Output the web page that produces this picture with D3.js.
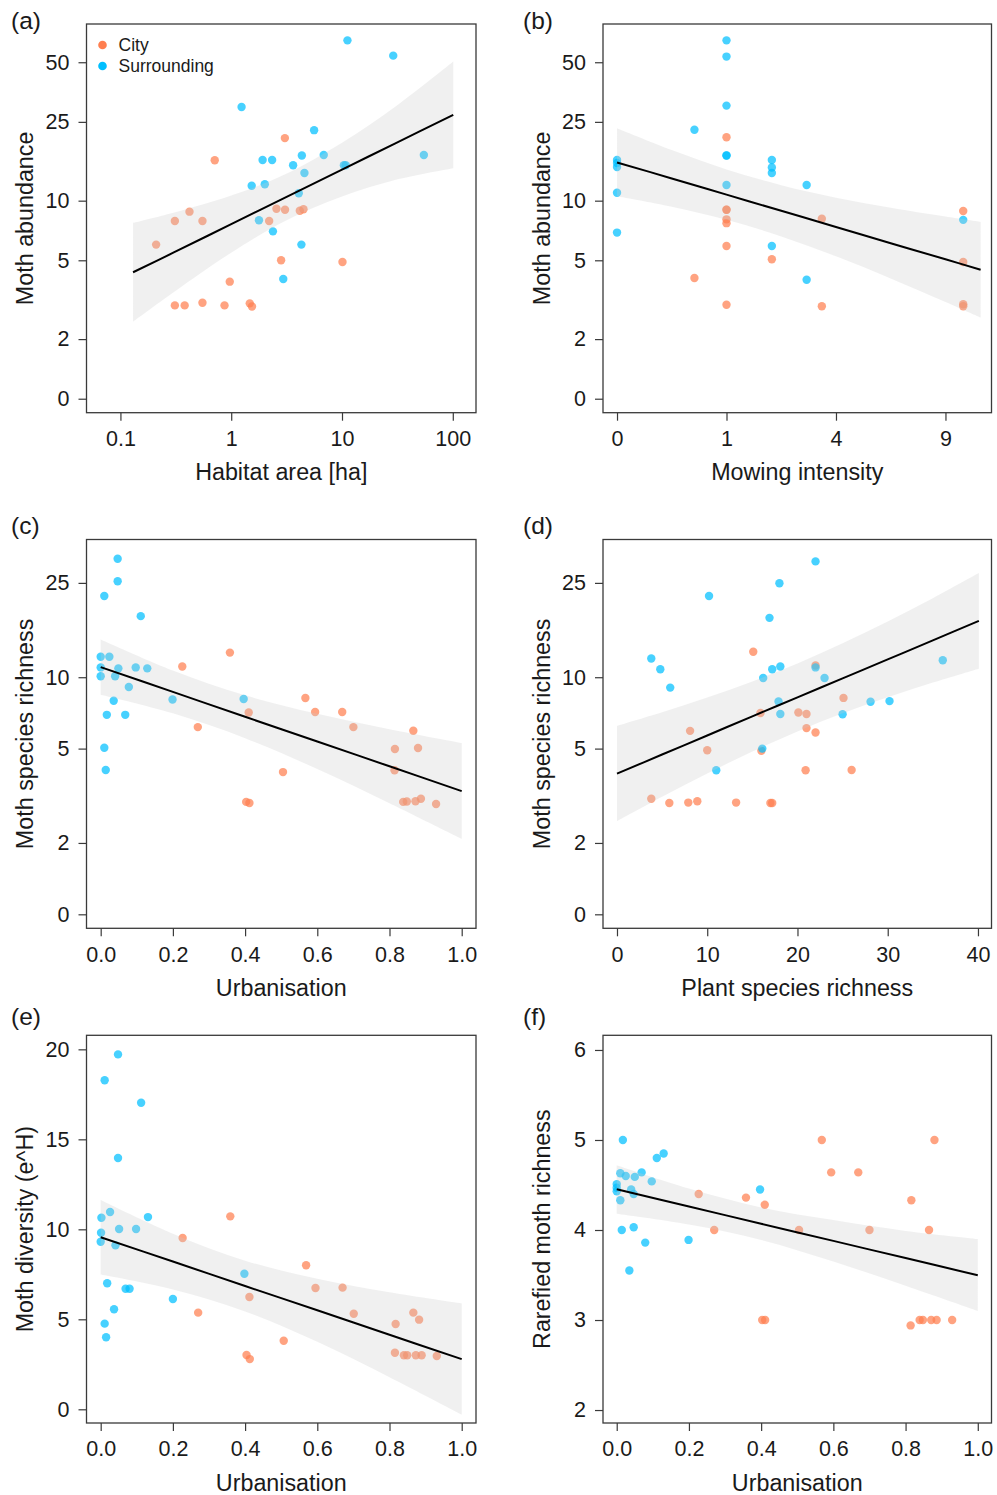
<!DOCTYPE html>
<html>
<head>
<meta charset="utf-8">
<script src="https://cdnjs.cloudflare.com/ajax/libs/d3/7.8.5/d3.min.js"></script>
<style>
  body { margin: 0; background: #fff; }
  text { font-family: "Liberation Sans", Arial, Helvetica, sans-serif; fill: #1a1a1a; }
</style>
</head>
<body>
<div class="canvas"></div>
<script>
// ---- data ----

// (a) habitat area vs moth abundance
const aCityArea  = [3.05, 0.71, 0.42, 0.31, 0.55, 0.21, 2.56, 3.06, 4.16, 4.49, 2.20, 2.82, 10.1, 0.97, 0.31, 0.38, 0.55, 0.87, 1.47, 1.54];
const aCityAbund = [20.7, 16.0, 8.8, 7.9, 7.9, 6.0, 9.1, 9.0, 8.9, 9.05, 7.9, 5.0, 4.9, 3.9, 2.96, 2.96, 3.05, 2.96, 3.03, 2.92];
const aSurrArea  = [11.2, 29.0, 1.24, 5.6, 4.34, 6.84, 1.92, 2.34, 3.62, 10.4, 10.8, 54.8, 4.58, 1.53, 2.01, 4.07, 1.78, 2.38, 4.3, 2.95];
const aSurrAbund = [64.5, 54.0, 29.7, 22.7, 16.9, 17.0, 16.05, 16.05, 15.1, 15.1, 15.1, 17.0, 13.8, 11.9, 12.1, 10.9, 7.96, 7.0, 6.0, 4.02];
const aFitArea = [0.13, 0.3, 1, 3, 10, 30, 101];
const aFitMid  = [4.35, 5.46, 7.61, 10.30, 14.35, 19.43, 27.1];
const aFitLo   = [2.45, 3.44, 5.46, 7.85, 10.50, 12.73, 14.6];
const aFitHi   = [7.71, 8.68, 10.61, 13.50, 19.63, 29.7, 50.4];

// (b) mowing intensity vs moth abundance
const bCityMow   = [0.5, 1, 1, 1, 1, 1, 1, 1, 2, 3.5, 3.5, 10, 10, 10, 10];
const bCityAbund = [4.07, 20.9, 9.0, 9.0, 8.05, 7.7, 5.9, 2.98, 5.06, 8.1, 2.93, 8.87, 4.9, 3.0, 2.93];
const bSurrMow   = [0, 0, 0, 0, 0, 0.5, 1, 1, 1, 1, 1, 1, 2, 2, 2, 2, 3, 3, 10];
const bSurrAbund = [16.05, 15.5, 14.8, 10.97, 6.9, 22.8, 64.5, 53.4, 30.2, 16.9, 16.9, 12.0, 16.05, 14.7, 13.8, 5.9, 12.0, 3.99, 8.0];
const bFitMow = [0, 0.25, 1, 2.25, 4, 6.25, 9, 11.03];
const bFitMid = [15.6, 12.95, 10.73, 8.89, 7.37, 6.10, 5.06, 4.48];
const bFitLo  = [10.53, 9.32, 8.00, 6.60, 5.24, 4.05, 3.08, 2.57];
const bFitHi  = [23.2, 18.0, 14.38, 11.98, 10.36, 9.21, 8.31, 7.81];

// (c) urbanisation vs moth species richness
const cCityUrb  = [0.358, 0.226, 0.567, 0.594, 0.669, 0.41, 0.70, 0.269, 0.866, 0.815, 0.879, 0.814, 0.505, 0.403, 0.412, 0.838, 0.848, 0.872, 0.887, 0.929];
const cCityRich = [12.7, 11.1, 8.17, 7.13, 7.13, 7.1, 6.16, 6.16, 5.95, 4.98, 5.03, 4.05, 3.98, 2.98, 2.95, 2.98, 2.99, 3.0, 3.07, 2.92];
const cSurrUrb  = [0.047, 0.047, 0.01, 0.111, 0, 0.024, 0, 0.049, 0.097, 0.129, 0, 0.040, 0.078, 0.199, 0.396, 0.036, 0.017, 0.068, 0.01, 0.014];
const cSurrRich = [31.6, 25.4, 22.0, 18.1, 12.2, 12.2, 11.0, 10.9, 11.0, 10.9, 10.1, 10.1, 9.1, 8.06, 8.1, 7.96, 6.94, 6.94, 5.04, 4.06];
const cFitUrb = [0, 0.2, 0.4, 0.6, 0.8, 1.0];
const cFitMid = [11.03, 8.67, 6.81, 5.36, 4.21, 3.31];
const cFitLo  = [8.43, 7.04, 5.53, 4.10, 2.94, 2.08];
const cFitHi  = [14.44, 10.68, 8.39, 7.01, 6.04, 5.28];

// (d) plant species richness vs moth species richness
const dCityPlant = [15.1, 22, 25.1, 15.9, 20.1, 21, 8.1, 21, 22, 10, 16, 20.9, 26, 3.8, 5.8, 7.9, 8.9, 13.2, 17, 17.2];
const dCityRich  = [12.8, 11.2, 8.18, 7.07, 7.1, 7.0, 5.94, 6.1, 5.85, 4.92, 4.9, 4.05, 4.06, 3.07, 2.95, 2.96, 3.0, 2.96, 2.95, 2.95];
const dSurrPlant = [22, 18, 10.2, 16.9, 3.8, 4.8, 5.9, 18.1, 17.2, 22, 16.2, 23, 36.1, 17.9, 28.1, 30.2, 18.1, 25, 16.1, 11];
const dSurrRich  = [30.8, 24.9, 22.0, 17.8, 12.0, 10.8, 9.04, 11.1, 10.8, 11.0, 9.92, 9.92, 11.8, 7.9, 7.88, 7.93, 7.0, 6.98, 5.0, 4.05];
const dFitPlant = [0, 5, 10, 15, 20, 25, 30, 35, 40.1];
const dFitMid   = [3.92, 4.72, 5.68, 6.84, 8.22, 9.89, 11.89, 14.31, 17.29];
const dFitLo    = [2.47, 3.13, 3.93, 4.86, 5.91, 7.04, 8.23, 9.50, 10.87];
const dFitHi    = [6.23, 7.11, 8.21, 9.60, 11.44, 13.90, 17.19, 21.56, 27.5];

// (e) urbanisation vs moth diversity
const eCityUrb = [0.359, 0.227, 0.569, 0.595, 0.670, 0.412, 0.701, 0.270, 0.866, 0.882, 0.817, 0.507, 0.404, 0.413, 0.815, 0.840, 0.849, 0.873, 0.889, 0.931];
const eCityDiv = [10.72, 9.52, 8.0, 6.74, 6.76, 6.24, 5.31, 5.37, 5.37, 4.98, 4.74, 3.81, 3.02, 2.79, 3.14, 3.0, 3.0, 3.0, 3.0, 2.96];
const eSurrUrb = [0.048, 0.011, 0.112, 0.048, 0.002, 0.026, 0.131, 0.001, 0.051, 0.098, 0, 0.041, 0.398, 0.018, 0.069, 0.080, 0.2, 0.037, 0.011, 0.015];
const eSurrDiv = [19.72, 18.28, 17.03, 13.96, 10.64, 10.96, 10.68, 9.81, 10.02, 10.02, 9.31, 9.11, 7.53, 7.0, 6.7, 6.7, 6.13, 5.56, 4.76, 4.0];
const eFitUrb = [0, 0.2, 0.4, 0.6, 0.8, 1.0];
const eFitMid = [9.56, 8.21, 6.85, 5.50, 4.14, 2.79];
const eFitLo  = [7.49, 6.66, 5.44, 3.75, 1.78, -0.30];
const eFitHi  = [11.63, 9.76, 8.26, 7.25, 6.50, 5.88];

// (f) urbanisation vs rarefied moth richness
const fCityUrb  = [0.568, 0.880, 0.594, 0.669, 0.227, 0.358, 0.41, 0.816, 0.270, 0.505, 0.700, 0.865, 0.403, 0.411, 0.814, 0.839, 0.848, 0.871, 0.886, 0.929];
const fCityRare = [5.0, 5.0, 4.64, 4.64, 4.4, 4.36, 4.28, 4.33, 4.0, 4.0, 4.0, 4.0, 3.0, 3.0, 2.94, 3.0, 3.0, 3.0, 3.0, 3.0];
const fSurrUrb  = [0.017, 0.111, 0.130, 0.010, 0.025, 0.050, 0.069, 0.097, 0.0, 0.0, 0.0, 0.040, 0.047, 0.010, 0.397, 0.014, 0.047, 0.079, 0.199, 0.035];
const fSurrRare = [5.0, 4.8, 4.85, 4.63, 4.6, 4.59, 4.64, 4.54, 4.51, 4.43, 4.47, 4.45, 4.40, 4.33, 4.45, 4.0, 4.03, 3.86, 3.89, 3.55];
const fFitUrb = [0, 0.2, 0.4, 0.6, 0.8, 1.0];
const fFitMid = [4.452, 4.261, 4.070, 3.879, 3.688, 3.497];
const fFitLo  = [4.18, 4.06, 3.89, 3.65, 3.38, 3.10];
const fFitHi  = [4.72, 4.46, 4.25, 4.11, 3.99, 3.90];

// tick values and their printed labels
const abundTicks  = [1, 2, 5, 10, 25, 50];
const abundLabels = ['0', '2', '5', '10', '25', '50'];
const richTicks   = [1, 2, 5, 10, 25];
const richLabels  = ['0', '2', '5', '10', '25'];
const areaTicks   = [0.1, 1, 10, 100];
const areaLabels  = ['0.1', '1', '10', '100'];
const mowTicks    = [0, 1, 4, 9];
const urbTicks    = [0, 0.2, 0.4, 0.6, 0.8, 1.0];
const plantTicks  = [0, 10, 20, 30, 40];
const divTicks    = [0, 5, 10, 15, 20];
const rareTicks   = [2, 3, 4, 5, 6];

const groups = ['City', 'Surrounding'];

// ---- layout ----
const W = 997, H = 1495;
const cols = [{ l: 86.5, r: 476 }, { l: 603, r: 991.5 }];
const rows = [{ t: 24, b: 412.7 }, { t: 539.5, b: 928.3 }, { t: 1035.3, b: 1423 }];
const tickFs = 21.5;   // tick labels
const titleFs = 23.3;  // axis titles
const tagFs = 24.5;    // panel letters
const color = { City: '#ff7f50', Surrounding: '#00bfff' };

const svg = d3.select('.canvas')
  .append('svg')
    .attr('width', W)
    .attr('height', H);

const urbFmt = d3.format('.1f');

const panels = [
  { tag: '(a)', col: 0, row: 0,
    x: d3.scaleLog().domain([0.0494, 162]), y: d3.scaleLog().domain([0.85, 78]),
    xt: areaTicks, xl: areaLabels, yt: abundTicks, yl: abundLabels,
    xTitle: 'Habitat area [ha]', yTitle: 'Moth abundance',
    city: [aCityArea, aCityAbund], surr: [aSurrArea, aSurrAbund],
    fit: [aFitArea, aFitMid, aFitLo, aFitHi], legend: true },
  { tag: '(b)', col: 1, row: 0,
    x: d3.scaleSqrt().domain([-0.0164, 11.70]), y: d3.scaleLog().domain([0.85, 78]),
    xt: mowTicks, xl: mowTicks.map(String), yt: abundTicks, yl: abundLabels,
    xTitle: 'Mowing intensity', yTitle: 'Moth abundance',
    city: [bCityMow, bCityAbund], surr: [bSurrMow, bSurrAbund],
    fit: [bFitMow, bFitMid, bFitLo, bFitHi] },
  { tag: '(c)', col: 0, row: 1,
    x: d3.scaleLinear().domain([-0.0393, 1.0396]), y: d3.scaleLog().domain([0.873, 38.1]),
    xt: urbTicks, xl: urbTicks.map(urbFmt), yt: richTicks, yl: richLabels,
    xTitle: 'Urbanisation', yTitle: 'Moth species richness',
    city: [cCityUrb, cCityRich], surr: [cSurrUrb, cSurrRich],
    fit: [cFitUrb, cFitMid, cFitLo, cFitHi] },
  { tag: '(d)', col: 1, row: 1,
    x: d3.scaleLinear().domain([-1.55, 41.5]), y: d3.scaleLog().domain([0.873, 38.1]),
    xt: plantTicks, xl: plantTicks.map(String), yt: richTicks, yl: richLabels,
    xTitle: 'Plant species richness', yTitle: 'Moth species richness',
    city: [dCityPlant, dCityRich], surr: [dSurrPlant, dSurrRich],
    fit: [dFitPlant, dFitMid, dFitLo, dFitHi] },
  { tag: '(e)', col: 0, row: 2,
    x: d3.scaleLinear().domain([-0.0393, 1.0396]), y: d3.scaleLinear().domain([-0.761, 20.78]),
    xt: urbTicks, xl: urbTicks.map(urbFmt), yt: divTicks, yl: divTicks.map(String),
    xTitle: 'Urbanisation', yTitle: 'Moth diversity (e^H)',
    city: [eCityUrb, eCityDiv], surr: [eSurrUrb, eSurrDiv],
    fit: [eFitUrb, eFitMid, eFitLo, eFitHi] },
  { tag: '(f)', col: 1, row: 2,
    x: d3.scaleLinear().domain([-0.038, 1.038]), y: d3.scaleLinear().domain([1.856, 6.163]),
    xt: urbTicks, xl: urbTicks.map(urbFmt), yt: rareTicks, yl: rareTicks.map(String),
    xTitle: 'Urbanisation', yTitle: 'Rarefied moth richness',
    city: [fCityUrb, fCityRare], surr: [fSurrUrb, fSurrRare],
    fit: [fFitUrb, fFitMid, fFitLo, fFitHi] }
];

panels.forEach(p => {
  const c = cols[p.col], r = rows[p.row];
  p.x.range([c.l, c.r]);
  p.y.range([r.b, r.t]);
  const g = svg.append('g');

  // points: city first, surrounding on top
  const pts = [];
  p.city[0].forEach((v, i) => pts.push({ x: v, y: p.city[1][i], grp: 'City' }));
  p.surr[0].forEach((v, i) => pts.push({ x: v, y: p.surr[1][i], grp: 'Surrounding' }));

  g.selectAll('circle.pt')
    .data(pts)
    .enter().append('circle')
      .attr('class', 'pt')
      .attr('cx', d => p.x(d.x))
      .attr('cy', d => p.y(d.y))
      .attr('r', 4.2)
      .attr('fill', d => color[d.grp])
      .attr('fill-opacity', 0.72);

  // confidence band drawn over the points, then the fitted line
  const fit = p.fit[0].map((v, i) => ({ x: v, mid: p.fit[1][i], lo: p.fit[2][i], hi: p.fit[3][i] }));

  g.append('path')
    .datum(fit)
    .attr('fill', 'rgb(200,200,200)')
    .attr('fill-opacity', 0.28)
    .attr('d', d3.area()
      .x(d => p.x(d.x))
      .y0(d => p.y(d.lo))
      .y1(d => p.y(d.hi))
      .curve(d3.curveCatmullRom));

  g.append('path')
    .datum(fit)
    .attr('fill', 'none')
    .attr('stroke', '#000')
    .attr('stroke-width', 2)
    .attr('d', d3.line()
      .x(d => p.x(d.x))
      .y(d => p.y(d.mid))
      .curve(d3.curveCatmullRom));

  // box
  g.append('rect')
    .attr('x', c.l).attr('y', r.t)
    .attr('width', c.r - c.l).attr('height', r.b - r.t)
    .attr('fill', 'none')
    .attr('stroke', '#3a3a3a')
    .attr('stroke-width', 1.3);

  // axes
  const xAxis = g.append('g')
    .attr('transform', `translate(0,${r.b})`)
    .call(d3.axisBottom(p.x).tickValues(p.xt).tickFormat((d, i) => p.xl[i]).tickSize(8).tickPadding(10));
  const yAxis = g.append('g')
    .attr('transform', `translate(${c.l},0)`)
    .call(d3.axisLeft(p.y).tickValues(p.yt).tickFormat((d, i) => p.yl[i]).tickSize(8).tickPadding(9));

  [xAxis, yAxis].forEach(a => {
    a.select('.domain').remove();
    a.selectAll('.tick line').attr('stroke', '#3a3a3a').attr('stroke-width', 1.2);
    a.selectAll('.tick text')
      .attr('font-family', '"Liberation Sans", Arial, sans-serif')
      .attr('font-size', tickFs)
      .attr('fill', '#1a1a1a');
  });

  // titles
  g.append('text')
    .attr('x', (c.l + c.r) / 2)
    .attr('y', r.b + 67.5)
    .attr('text-anchor', 'middle')
    .attr('font-size', titleFs)
    .text(p.xTitle);

  g.append('text')
    .attr('transform', `translate(${c.l - 53.5},${(r.t + r.b) / 2}) rotate(-90)`)
    .attr('text-anchor', 'middle')
    .attr('font-size', titleFs)
    .text(p.yTitle);

  g.append('text')
    .attr('x', p.col === 0 ? 11 : 523)
    .attr('y', [28.5, 534, 1025][p.row])
    .attr('font-size', tagFs)
    .text(p.tag);

  // legend
  if (p.legend) {
    const lg = g.append('g');
    groups.forEach((grp, i) => {
      lg.append('circle')
        .attr('cx', c.l + 16)
        .attr('cy', 45 + i * 21)
        .attr('r', 4.3)
        .attr('fill', color[grp]);
      lg.append('text')
        .attr('x', c.l + 32)
        .attr('y', 51 + i * 21)
        .attr('font-size', 17.5)
        .text(grp);
    });
  }
});
</script>
</body>
</html>
